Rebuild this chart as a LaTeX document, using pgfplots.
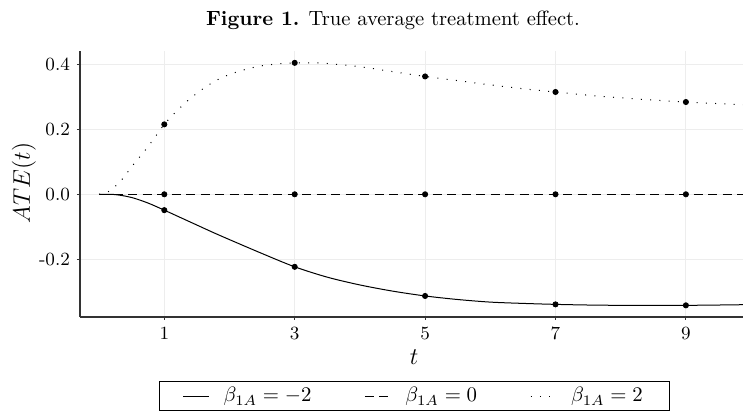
\RequirePackage{fix-cm}
\documentclass[border=0pt]{standalone}
\usepackage{pgfplots}
\pgfplotsset{compat=1.18}
\pgfplotstableread{
t y
0 0
0.25 -0.001
0.5 -0.010
0.75 -0.027
1 -0.049
1.25 -0.072
1.5 -0.095
1.75 -0.118
2 -0.140
2.5 -0.183
3 -0.224
3.5 -0.256
4 -0.280
4.5 -0.299
5 -0.314
5.5 -0.325
6 -0.333
6.5 -0.337
7 -0.340
7.5 -0.342
8 -0.343
8.5 -0.343
9 -0.343
9.5 -0.342
9.876 -0.341
}\solid
\pgfplotstableread{
t y
0 0
9.876 0
}\dashed
\pgfplotstableread{
t y
0 0
0.14 0.008
0.25 0.025
0.36 0.048
0.535 0.094
0.715 0.138
0.88 0.183
1 0.216
1.16 0.251
1.37 0.291
1.6 0.327
1.8 0.352
2 0.370
2.25 0.386
2.5 0.397
2.75 0.403
3 0.406
3.25 0.406
3.5 0.404
4 0.394
4.5 0.379
5 0.364
5.5 0.351
6 0.338
6.5 0.326
7 0.316
7.5 0.306
8 0.298
8.5 0.291
9 0.285
9.5 0.280
9.876 0.277
}\dotted
\begin{document}
\begin{tikzpicture}
\useasboundingbox (-40pt,-47pt) rectangle (331.5pt,158.5pt);
\begin{axis}[
  at={(0pt,0pt)}, anchor=south west,
  scale only axis, width=331.5pt, height=133pt,
  xmin=-0.293, xmax=9.876, ymin=-0.379, ymax=0.4426,
  axis x line*=bottom, axis y line*=left,
  axis line style={-, black!80, line width=0.6pt},
  xtick={1,3,5,7,9},
  ytick={-0.2,0,0.2,0.4},
  yticklabels={-0.2,0.0,0.2,0.4},
  xticklabels={1,3,5,7,9},
  tick align=outside, major tick length=1.5pt,
  tick style={black!80, line width=0.5pt},
  grid=major, major grid style={line width=0.5pt, black!7},
  tick label style={font=\fontsize{9.3}{10}\selectfont},
  xlabel={$t$}, ylabel={$ATE(t)$},
  label style={font=\fontsize{12}{14}\selectfont},
  xlabel style={at={(axis description cs:0.504,-0.150)}, anchor=center},
  ylabel style={at={(axis description cs:-0.0845,0.504)}, anchor=center},
  legend columns=3,
  legend image code/.code={\draw[#1] (0pt,0pt) -- (13pt,0pt);},
  legend style={at={(axis description cs:0.1192,-0.2406)}, anchor=north west,
    draw=black, line width=0.5pt, inner xsep=11.5pt, inner ysep=1pt,
    font=\fontsize{10.4}{12}\selectfont,
    /tikz/every odd column/.append style={column sep=5pt},
    /tikz/every even column/.append style={column sep=24.5pt}},
  clip=true,
]
\addplot[black, line width=0.5pt, smooth] table {\solid};
\addlegendentry{$\beta_{1A}=-2$}
\addplot[black, line width=0.5pt, dash pattern=on 4.5pt off 2.75pt] table {\dashed};
\addlegendentry{$\beta_{1A}=0$}
\addplot[black, line width=0.5pt, smooth, dash pattern=on 0.5pt off 4.15pt] table {\dotted};
\addlegendentry{$\beta_{1A}=2$\hspace{6.5pt}}
\addplot[only marks, mark=*, mark size=1.3pt, black, forget plot] coordinates {(1,-0.049) (3,-0.224) (5,-0.314) (7,-0.340) (9,-0.343)};
\addplot[only marks, mark=*, mark size=1.3pt, black, forget plot] coordinates {(1,0) (3,0) (5,0) (7,0) (9,0)};
\addplot[only marks, mark=*, mark size=1.3pt, black, forget plot] coordinates {(1,0.216) (3,0.406) (5,0.364) (7,0.316) (9,0.285)};
\end{axis}
\node[anchor=base, font=\fontsize{10.3}{12}\selectfont] at (156.5pt,145.5pt) {\textbf{Figure 1.} True average treatment effect.};
\end{tikzpicture}
\end{document}
